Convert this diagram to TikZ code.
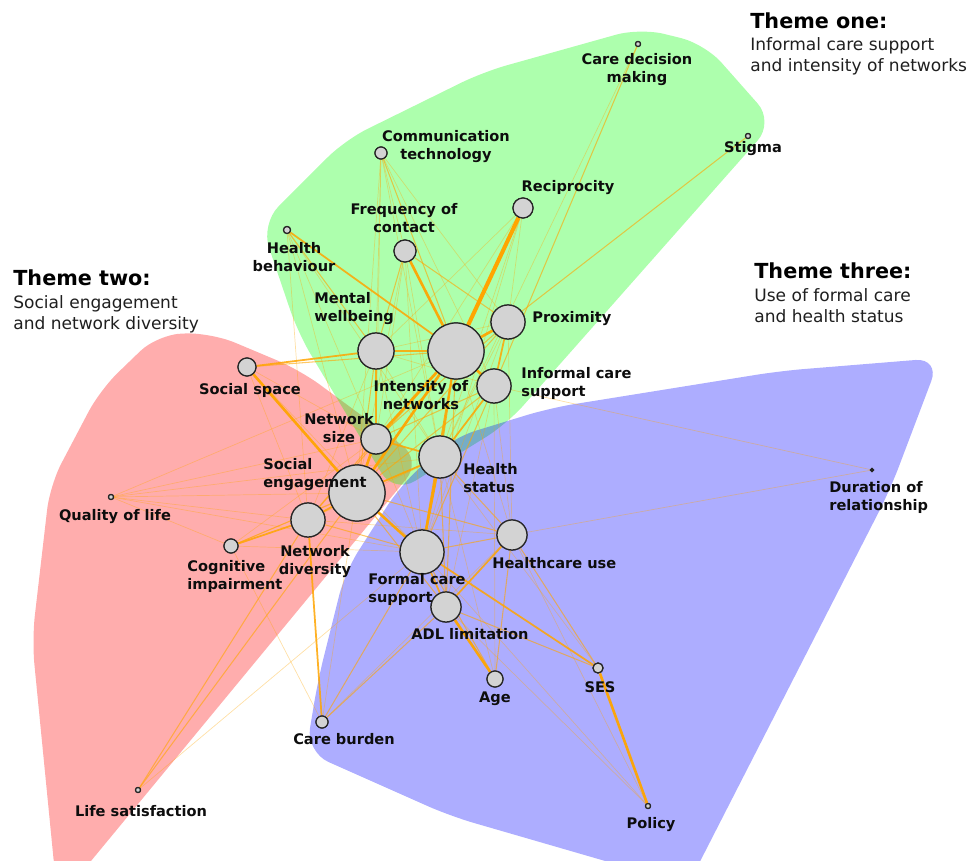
\documentclass[tikz,border=0pt]{standalone}
\usepackage{fontspec}
\setmainfont{DejaVu Sans}
\definecolor{eorg}{RGB}{255,165,0}
\definecolor{vfill}{RGB}{211,211,211}
\tikzset{
  vtx/.style={circle,draw=black!85,fill=vfill,line width=0.7pt,inner sep=0pt,minimum size=#1*0.04cm},
  lblc/.style={font=\bfseries\fontsize{8.3}{10.2}\selectfont,inner sep=0pt,align=center,anchor=north,text=black!95},
  lbll/.style={font=\bfseries\fontsize{8.3}{10.2}\selectfont,inner sep=0pt,align=left,anchor=north west,text=black!95},
  ttl/.style={font=\bfseries\fontsize{11.8}{14}\selectfont,inner sep=0pt,anchor=base west},
  sub/.style={font=\fontsize{9.7}{12}\selectfont,inner sep=0pt,anchor=base west,text=black!88},
  hull/.style={fill opacity=0.32,rounded corners=14pt},
  ea/.style={draw=eorg,line width=0.4pt,draw opacity=0.35},
  eb/.style={draw=eorg,line width=0.6pt,draw opacity=0.6},
  ec/.style={draw=eorg,line width=1.0pt,draw opacity=0.85},
  ed/.style={draw=eorg,line width=1.5pt,draw opacity=0.95},
  ee/.style={draw=eorg,line width=2.3pt},
}
\begin{document}
\begin{tikzpicture}[x=0.02cm,y=-0.02cm]
\useasboundingbox (0,0) rectangle (968,861);
\begin{scope}
\clip (0,0) rectangle (968,861);
% hulls
\fill[hull,red] (56,884) -- (32,640) -- (50,485) -- (100,390) -- (158,334) -- (212,333) -- (300,370) -- (422,460) -- (72,884) -- cycle;
\fill[hull,green] (261,224) -- (345,140) -- (483,72) -- (640,28) -- (705,44) -- (774,122) -- (507,424) -- (394,494) -- (298,333) -- cycle;
\fill[hull,blue] (452,438) -- (550,408) -- (780,371) -- (940,358) -- (890,490) -- (688,885) -- (450,816) -- (306,752) -- (318,680) -- (345,572) -- (400,486) -- cycle;
\end{scope}
% nodes
\node[vtx=2.5] (cdm) at (638,44) {};
\node[vtx=2.5] (stg) at (748,136) {};
\node[vtx=6] (ct) at (381,153) {};
\node[vtx=10] (rec) at (523,208) {};
\node[vtx=11] (foc) at (405,251) {};
\node[vtx=3.5] (hb) at (287,230) {};
\node[vtx=18] (mw) at (376,351) {};
\node[vtx=28] (ion) at (456,351) {};
\node[vtx=17] (prx) at (508,322) {};
\node[vtx=17] (ics) at (494,386) {};
\node[vtx=9] (ss) at (247,367) {};
\node[vtx=15] (ns) at (376,439) {};
\node[vtx=21] (hs) at (440,457) {};
\node[vtx=28] (se) at (357,493) {};
\node[vtx=17] (nd) at (308,520) {};
\node[vtx=2.5] (qol) at (111,497) {};
\node[vtx=7] (ci) at (231,546) {};
\node[vtx=15] (hcu) at (512,535) {};
\node[vtx=22] (fcs) at (422,552) {};
\node[vtx=15] (adl) at (446,607) {};
\node[vtx=8] (age) at (495,679) {};
\node[vtx=5] (ses) at (598,668) {};
\node[vtx=1.5,fill=black] (dor) at (872,470) {};
\node[vtx=6] (cb) at (322,722) {};
\node[vtx=2.5] (ls) at (138,790) {};
\node[vtx=2.5] (pol) at (648,806) {};
% edges
\foreach \a/\b in {cdm/hs,ct/mw,ct/foc,ct/prx,ct/ns,ct/se,ct/ics,ct/hs,rec/prx,rec/ns,rec/mw,rec/hs,foc/ns,foc/se,foc/fcs,foc/hs,hb/ns,hb/se,hb/nd,hb/hs,mw/prx,mw/hs,mw/nd,mw/fcs,mw/ics,ion/hcu,prx/hs,prx/fcs,ics/hcu,ics/dor,ics/adl,ics/age,ss/ns,ss/nd,ss/fcs,ns/fcs,hs/age,hs/ses,hs/nd,se/qol,se/cb,nd/qol,nd/hcu,qol/ns,qol/ion,qol/fcs,qol/ci,qol/hs,ci/fcs,ci/ns,ci/cb,ci/hs,hcu/dor,hcu/cb,hcu/pol,fcs/pol,adl/pol,ls/fcs,prx/hcu,rec/fcs}
  \draw[ea] (\a) -- (\b);
\foreach \a/\b in {cdm/ics,stg/prx,ct/ion,foc/prx,mw/se,ion/ss,ion/nd,prx/ns,prx/se,ics/ns,ics/se,ics/fcs,ns/nd,hs/hcu,hs/adl,se/ci,se/hcu,se/adl,nd/fcs,se/ls,nd/ls,hcu/fcs,hcu/age,hcu/ses,fcs/age,fcs/cb,adl/ses,adl/cb,hb/mw,foc/mw,ion/adl}
  \draw[eb] (\a) -- (\b);
\foreach \a/\b in {mw/ion,mw/ss,se/nd,nd/ci,fcs/adl,nd/cb,prx/ics,ics/hs,ion/hs,se/hs,ns/hs,mw/ns,ion/fcs,hcu/adl,fcs/ses,hb/ion}
  \draw[ec] (\a) -- (\b);
\foreach \a/\b in {foc/ion,ss/se,ion/se,ion/ns,se/ns,ion/ics,ion/prx,hs/fcs,adl/age,ses/pol,se/fcs}
  \draw[ed] (\a) -- (\b);
\draw[ee] (rec) -- (ion);
% redraw nodes on top
\foreach \n/\r in {cdm/2.5,stg/2.5,ct/6,rec/10,foc/11,hb/3.5,mw/18,ion/28,prx/17,ics/17,ss/9,ns/15,hs/21,se/28,nd/17,qol/2.5,ci/7,hcu/15,fcs/22,adl/15,age/8,ses/5,cb/6,ls/2.5,pol/2.5}
  \node[vtx=\r] at (\n) {};
\node[vtx=1.5,fill=black] at (dor) {};
% labels
\node[lblc] (l-cdm) at (637,53) {Care decision\\making};
\node[lblc] (l-stg) at (753,141) {Stigma};
\node[lblc] (l-ct) at (446,130) {Communication\\technology};
\node[lblc] (l-rec) at (568,180) {Reciprocity};
\node[lblc] (l-foc) at (404,203) {Frequency of\\contact};
\node[lblc] (l-hb) at (294,242) {Health\\behaviour};
\node[lblc] (l-ion) at (421,380) {Intensity of\\networks};
\node[lblc] (l-ss) at (250,383) {Social space};
\node[lblc] (l-ns) at (339,413) {Network\\size};
\node[lblc] (l-qol) at (115,509) {Quality of life};
\node[lblc] (l-nd) at (315,545) {Network\\diversity};
\node[lblc] (l-adl) at (470,628) {ADL limitation};
\node[lblc] (l-age) at (495,692) {Age};
\node[lblc] (l-ses) at (600,681) {SES};
\node[lblc] (l-cb) at (344,733) {Care burden};
\node[lblc] (l-ls) at (141,805) {Life satisfaction};
\node[lblc] (l-pol) at (651,817) {Policy};
\node[lbll] (l-mw) at (314,292) {Mental\\wellbeing};
\node[lbll] (l-prx) at (532,311) {Proximity};
\node[lbll] (l-ics) at (521,367) {Informal care\\support};
\node[lbll] (l-hs) at (463,463) {Health\\status};
\node[lbll] (l-se) at (263,458) {Social\\engagement};
\node[lbll] (l-ci) at (187,560) {Cognitive\\impairment};
\node[lbll] (l-hcu) at (492,557) {Healthcare use};
\node[lbll] (l-fcs) at (368,573) {Formal care\\support};
\node[lbll] (l-dor) at (829,481) {Duration of\\relationship};
% themes
\node[ttl] (t1) at (750,29) {Theme one:};
\node[sub] (t1a) at (750,51) {Informal care support};
\node[sub] (t1b) at (750,72) {and intensity of networks};
\node[ttl] (t2) at (13,286) {Theme two:};
\node[sub] (t2a) at (13,309) {Social engagement};
\node[sub] (t2b) at (13,330) {and network diversity};
\node[ttl] (t3) at (754,279) {Theme three:};
\node[sub] (t3a) at (754,302) {Use of formal care};
\node[sub] (t3b) at (754,323) {and health status};
\end{tikzpicture}
\end{document}
